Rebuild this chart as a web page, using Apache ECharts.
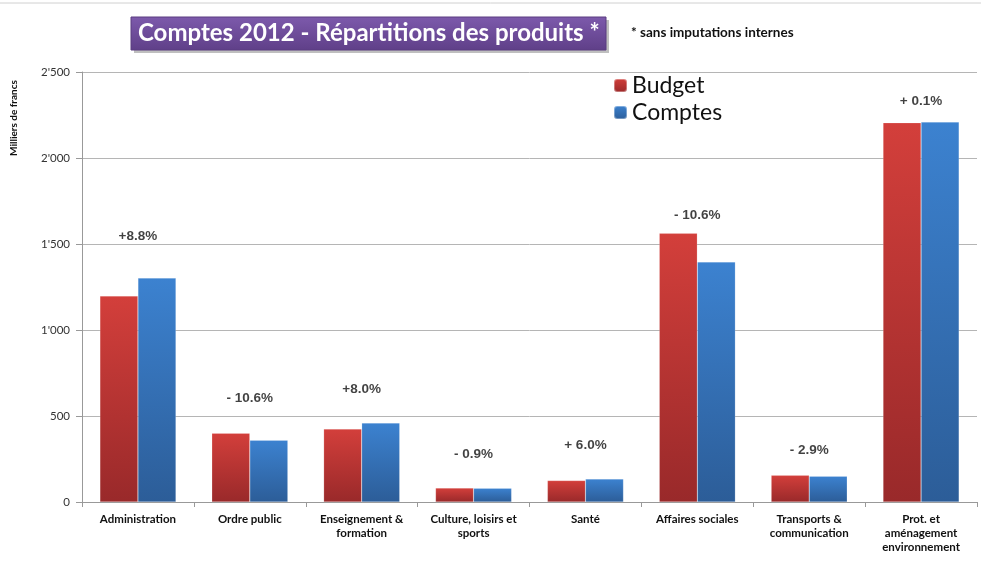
<!DOCTYPE html>
<html><head><meta charset="utf-8">
<script src="https://cdn.jsdelivr.net/npm/echarts@6/dist/echarts.min.js"></script>
<style>html,body{margin:0;padding:0;background:#fff}#c{width:981px;height:562px}</style>
</head><body><div id="c"></div>
<script>
const categories = ['Administration','Ordre public','Enseignement &\nformation','Culture, loisirs et\nsports','Santé','Affaires sociales','Transports &\ncommunication','Prot. et\naménagement\nenvironnement'];
const budget  = [1198, 400, 424, 81, 125, 1562, 155, 2205];
const comptes = [1302, 359, 459, 80, 134, 1396, 150, 2209];
const changeLabels = ['+8.8%','- 10.6%','+8.0%','- 0.9%','+ 6.0%','- 10.6%','- 2.9%','+ 0.1%'];
const changeLevels = [1547, 605, 657, 279, 331, 1669, 302, 2331];
const yTicks = [0, 500, 1000, 1500, 2000, 2500];

const chart = echarts.init(document.getElementById('c'));
function grad(top, bottom){
  return new echarts.graphic.LinearGradient(0,0,0,1,[{offset:0,color:top},{offset:1,color:bottom}]);
}
const fmt = v => { const s = String(v); return s.length > 3 ? s.slice(0, s.length-3) + "'" + s.slice(-3) : s; };
chart.setOption({
  animation:false,
  grid:{left:82,right:4,top:72,bottom:60,containLabel:false},
  legend:{
    orient:'vertical', left:608, top:69, itemWidth:13, itemHeight:13, itemGap:4,
    textStyle:{fontFamily:'Lato', fontSize:23, color:'#111'},
    data:['Budget','Comptes']
  },
  xAxis:{
    type:'category', data:categories,
    axisLine:{lineStyle:{color:'#999'}},
    axisTick:{show:true, alignWithLabel:false, length:5, lineStyle:{color:'#999'}},
    axisLabel:{fontFamily:'Lato', fontWeight:'bold', fontSize:11.5, color:'#111', lineHeight:14, margin:10, interval:0}
  },
  yAxis:{
    type:'value', min:0, max:2500, interval:500,
    axisLine:{show:true, lineStyle:{color:'#999'}},
    axisTick:{show:true, length:6, lineStyle:{color:'#999'}},
    splitLine:{lineStyle:{color:'#b5b5b5'}},
    axisLabel:{fontFamily:'Lato', fontSize:11.5, color:'#333', margin:12,
      formatter: v => yTicks.includes(v) ? fmt(v) : ''}
  },
  series:[
    {name:'Budget', type:'bar', data:budget, barGap:'0%', barCategoryGap:'32%',
     itemStyle:{color:grad('#d33f3b','#99292a'), borderColor:'rgba(255,255,255,0.35)', borderWidth:0.5}},
    {name:'Comptes', type:'bar', data:comptes,
     itemStyle:{color:grad('#3c82d0','#2c5d98'), borderColor:'rgba(255,255,255,0.35)', borderWidth:0.5}},
    {name:'change', type:'scatter', symbolSize:0, silent:true,
     data: changeLevels.map((v,i)=>({value:[i, v], label:{formatter:changeLabels[i]}})),
     label:{show:true, position:'inside', fontFamily:'Liberation Sans', fontWeight:'bold', fontSize:13.5, color:'#111'}}
  ],
  graphic:[
    {type:'line', shape:{x1:0,y1:3,x2:981,y2:3}, style:{stroke:'#d0d0d0', lineWidth:1}},
    {type:'rect', shape:{x:134,y:20,width:475,height:33}, style:{fill:'rgba(0,0,0,0.25)'}, z:1},
    {type:'rect', shape:{x:131,y:17,width:475,height:33},
     style:{fill:grad('#7d5aac','#5f3f88'), stroke:'#5a3d80', lineWidth:1}, z:2},
    {type:'text', left:138, top:21, z:3,
     style:{text:'Comptes 2012 - Répartitions des produits *', fill:'#fff', fontFamily:'Lato', fontWeight:'bold', fontSize:24}},
    {type:'text', left:631, top:26,
     style:{text:'* sans imputations internes', fill:'#111', fontFamily:'Lato', fontWeight:'bold', fontSize:13.5}},
    {type:'text', x:9, y:156, rotation:Math.PI/2,
     style:{text:'Milliers de francs', fill:'#111', fontFamily:'Lato', fontWeight:'bold', fontSize:10}}
  ]
});
</script></body></html>
